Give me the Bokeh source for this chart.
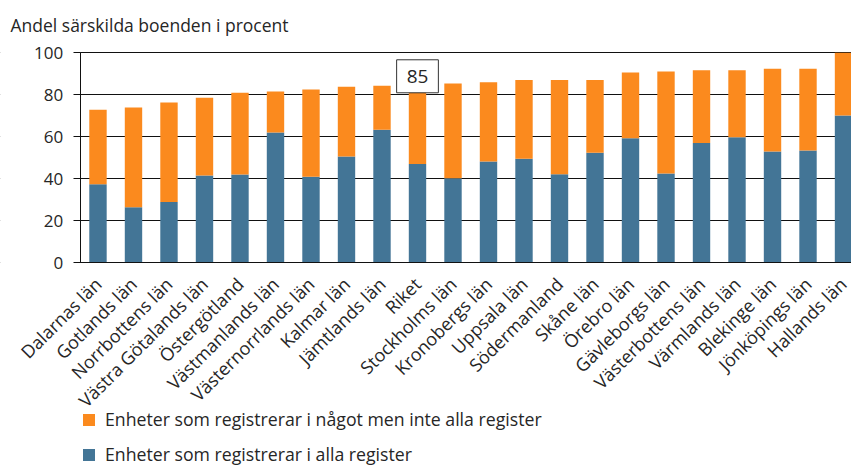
import math
from bokeh.plotting import figure
from bokeh.models import (Range1d, Label, Legend, LegendItem, FixedTicker,
                          ColumnDataSource, BoxAnnotation)
from bokeh.embed import file_html
from bokeh.resources import INLINE

# ---- data -------------------------------------------------------------
regions = ["Dalarnas län", "Gotlands län", "Norrbottens län",
           "Västra Götalands län", "Östergötland", "Västmanlands län",
           "Västernorrlands län", "Kalmar län", "Jämtlands län", "Riket",
           "Stockholms län", "Kronobergs län", "Uppsala län", "Södermanland",
           "Skåne län", "Örebro län", "Gävleborgs län", "Västerbottens län",
           "Värmlands län", "Blekinge län", "Jönköpings län", "Hallands län"]
all_registers = [37.4, 26.5, 28.9, 41.6, 42.0, 62.0, 41.0, 50.6, 63.3, 47.1,
                 40.3, 48.2, 49.5, 42.2, 52.4, 59.3, 42.5, 57.0, 59.8, 53.0,
                 53.5, 70.1]
some_registers = [35.5, 47.5, 47.4, 37.0, 39.0, 19.6, 41.5, 33.2, 21.0, 37.9,
                  45.1, 37.8, 37.6, 44.9, 34.7, 31.3, 48.6, 34.7, 31.9, 39.4,
                  38.9, 29.9]
highlight_region = "Riket"
highlight_label = "85"
y_ticks = [0, 20, 40, 60, 80, 100]
series_labels = ["Enheter som registrerar i något men inte alla register",
                 "Enheter som registrerar i alla register"]
title_text = "Andel särskilda boenden i procent"

# ---- style ------------------------------------------------------------
ORANGE = "#FB8A1E"
BLUE = "#437596"
TEXT = "#262626"
LINE = "#111111"
FONT = "Open Sans"

idx = list(range(len(regions)))
src = ColumnDataSource(dict(idx=idx, all=all_registers, some=some_registers))

X0, X1 = -2.746, 21.225       # frame spans the whole page width
Y0, Y1 = -97.0, 124.9          # frame spans the whole page height
p = figure(title=None, frame_width=851, frame_height=466,
           x_range=Range1d(X0, X1), y_range=Range1d(Y0, Y1),
           output_backend="svg", toolbar_location=None,
           min_border_left=0, min_border_right=0, min_border_top=0,
           min_border_bottom=0)
p.outline_line_color = None
p.background_fill_color = "white"

renderers = p.vbar_stack(["all", "some"], x="idx", width=0.49,
                         color=[BLUE, ORANGE], source=src, line_color=None)

# gridlines
p.xgrid.grid_line_color = None
p.ygrid.ticker = FixedTicker(ticks=y_ticks)
p.ygrid.grid_line_color = LINE
p.ygrid.grid_line_alpha = 1.0
# keep gridlines to the right of the value axis
p.add_layout(BoxAnnotation(left=X0 - 1, right=-0.5, fill_color="white",
                           fill_alpha=1.0, line_alpha=0, level="glyph"))

# x axis fixed at y = 0
xa = p.xaxis[0]
xa.fixed_location = 0
xa.bounds = (-0.5, X1)
xa.ticker = FixedTicker(ticks=idx)
xa.major_label_overrides = {i: r for i, r in zip(idx, regions)}
xa.major_label_orientation = math.pi / 4
xa.major_tick_line_color = None
xa.minor_tick_line_color = None
xa.axis_line_color = LINE
xa.major_label_text_font = FONT
xa.major_label_text_font_size = "18px"
xa.major_label_text_color = TEXT
xa.major_label_standoff = 12

# y axis fixed at the left edge of the first category
ya = p.yaxis[0]
ya.fixed_location = -0.5
ya.ticker = FixedTicker(ticks=y_ticks)
ya.bounds = (min(y_ticks), max(y_ticks))
ya.major_tick_in = 0
ya.major_tick_out = 7
ya.major_tick_line_color = LINE
ya.minor_tick_line_color = None
ya.axis_line_color = LINE
ya.major_label_text_font = FONT
ya.major_label_text_font_size = "17px"
ya.major_label_text_color = TEXT
ya.major_label_standoff = 10

# title (as a label at the top-left)
p.add_layout(Label(x=10, y=442, x_units="screen", y_units="screen",
                   text=title_text, text_font=FONT, text_font_size="17.5px",
                   text_color=TEXT, text_baseline="alphabetic",
                   text_align="left"))

# highlight label
hi = regions.index(highlight_region)
lab = Label(x=hi, y=all_registers[hi] + some_registers[hi], text=highlight_label,
            text_align="center", text_baseline="middle",
            y_offset=8, text_font=FONT, text_font_size="19px",
            text_color=TEXT, border_line_color="#333333",
            background_fill_color="white", padding=10)
p.add_layout(lab)

# legend
legend = Legend(items=[LegendItem(label=series_labels[0], renderers=[renderers[1]]),
                       LegendItem(label=series_labels[1], renderers=[renderers[0]])],
                location=(81, 0), orientation="vertical",
                glyph_width=15, glyph_height=15, label_height=20,
                spacing=11, padding=0, margin=0,
                label_text_font=FONT, label_text_font_size="17.7px",
                label_text_color=TEXT, label_standoff=9,
                border_line_color=None, background_fill_alpha=0)
p.add_layout(legend)

open("out.html", "w").write(file_html(p, INLINE))
